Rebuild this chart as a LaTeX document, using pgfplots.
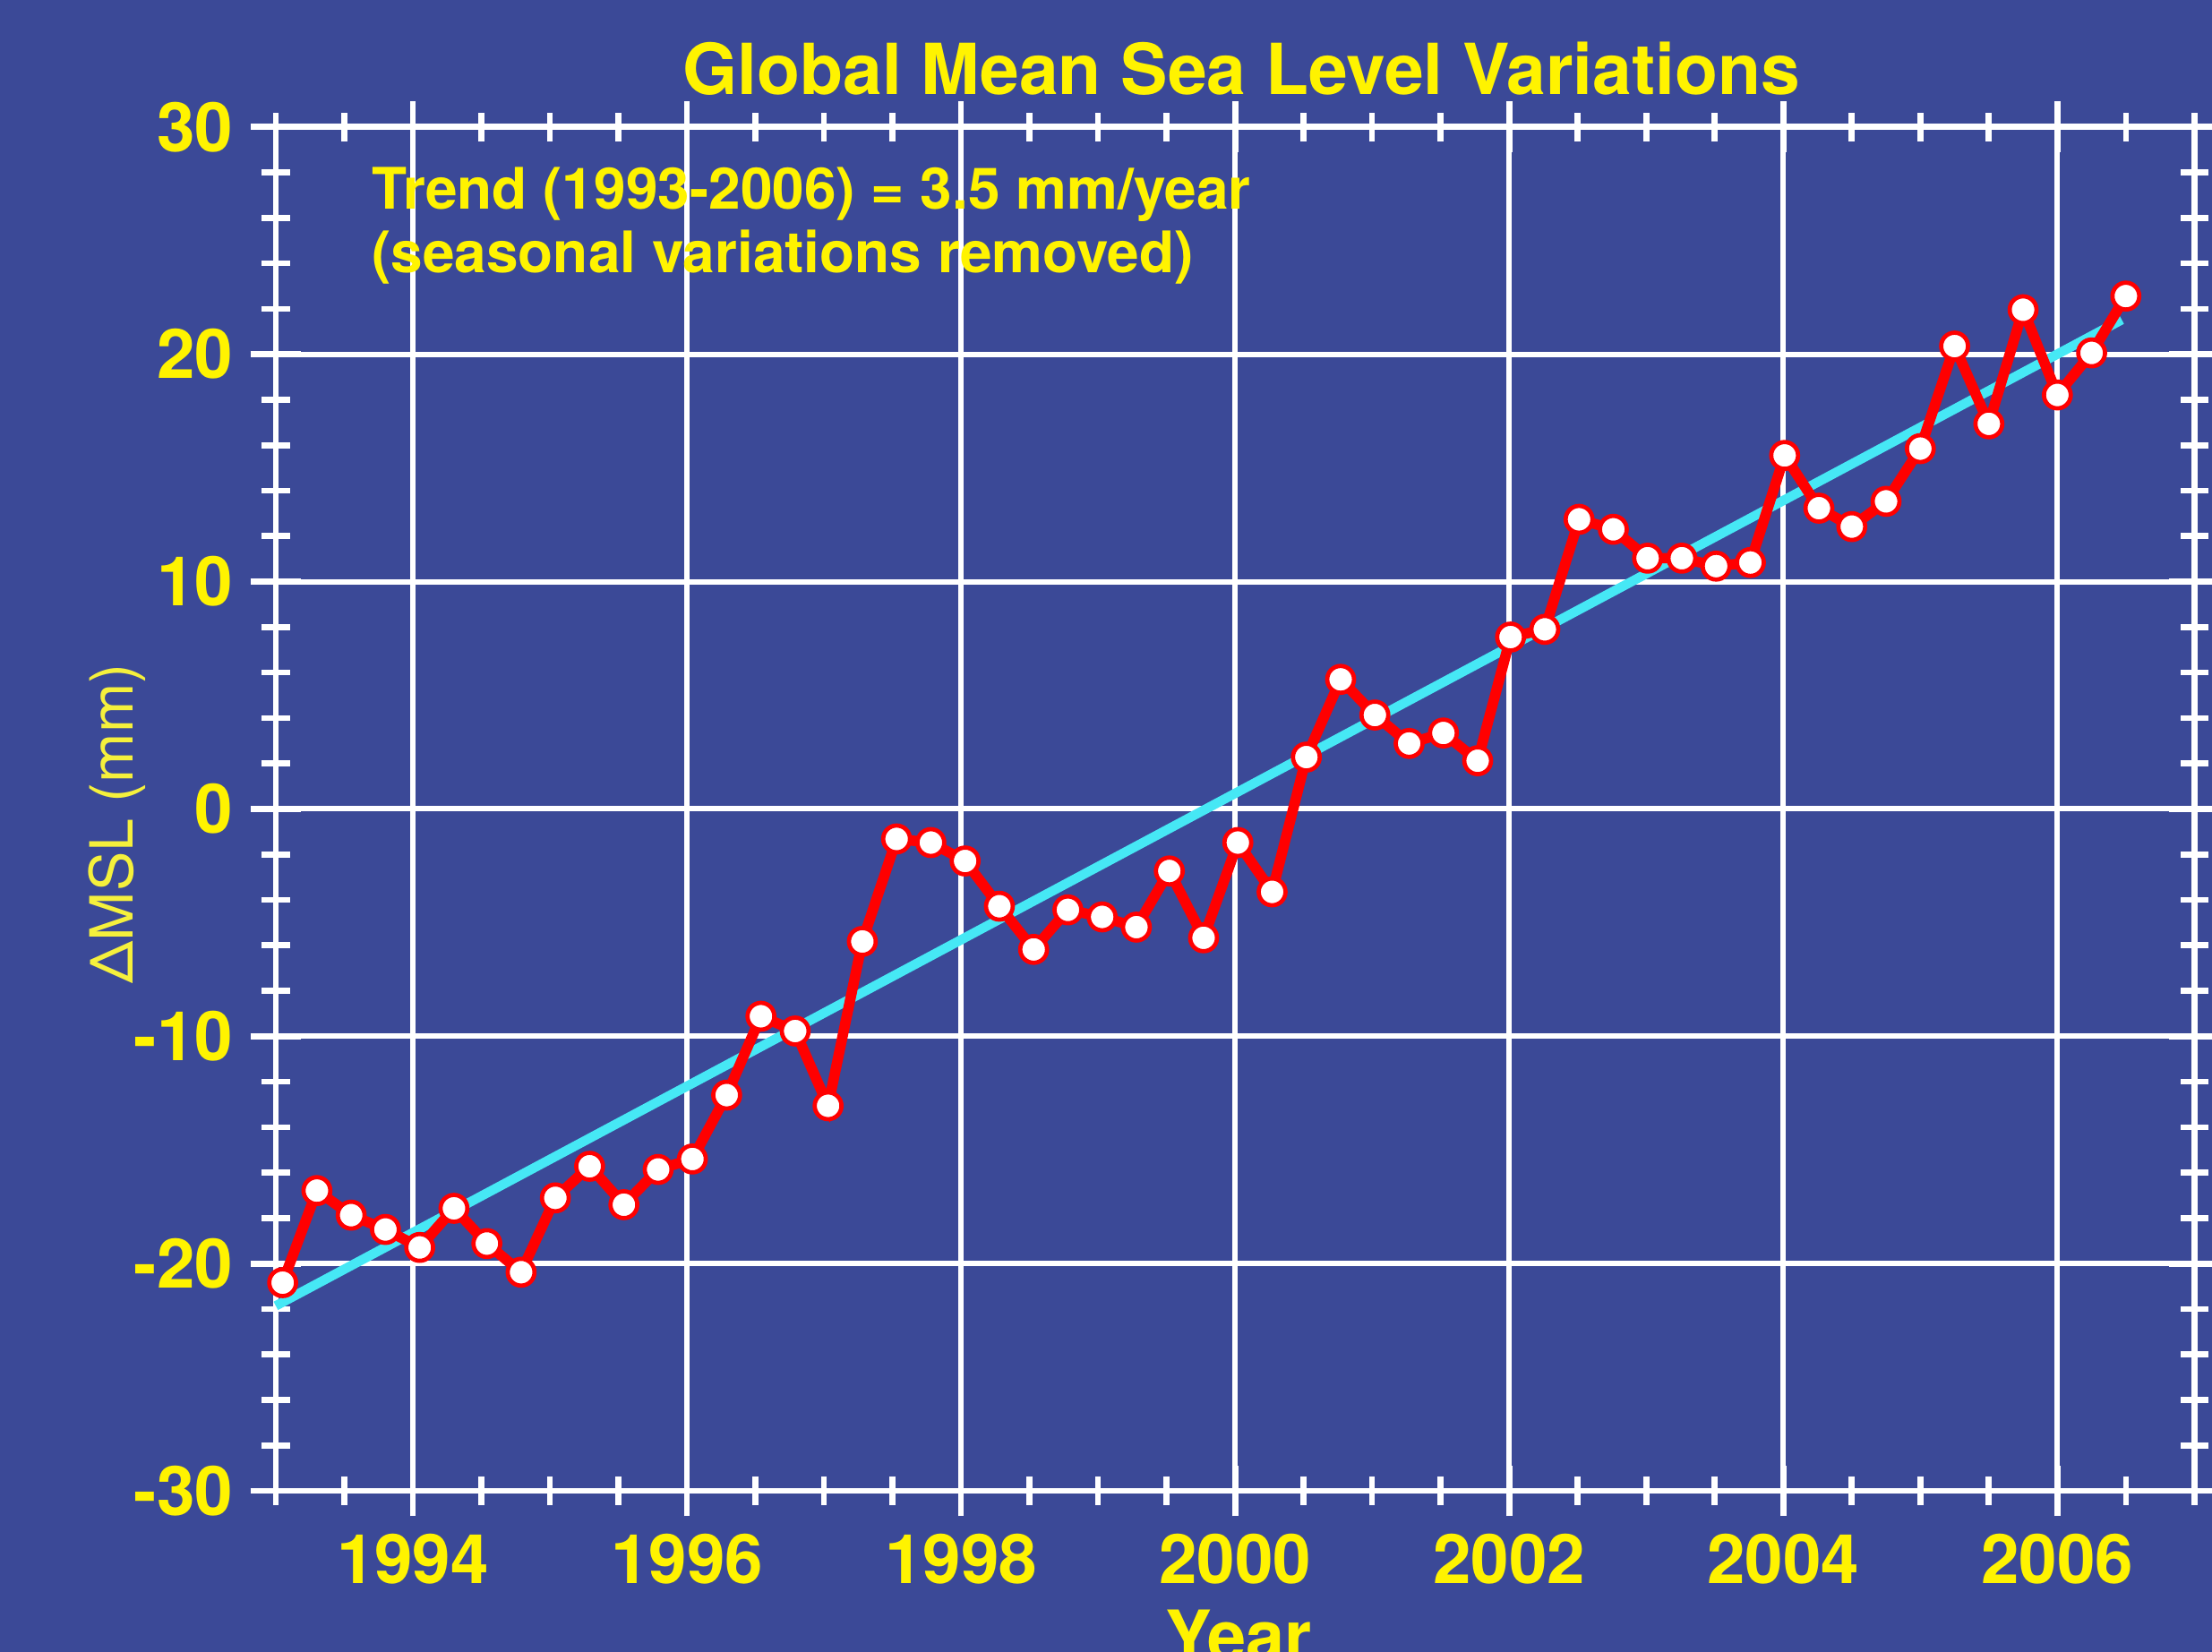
\documentclass[border=0pt]{standalone}
\usepackage{pgfplots}
\pgfplotsset{compat=1.18}
\usepackage{pgfplotstable}
\usepackage{fontspec}
\setmainfont{TeX Gyre Heros}

\definecolor{bgblue}{RGB}{59,73,151}
\definecolor{ylw}{RGB}{255,243,0}
\definecolor{ylwlab}{RGB}{245,240,60}
\definecolor{trendcyan}{RGB}{70,232,245}
\definecolor{mslred}{RGB}{255,0,0}

% global mean sea level, seasonal signal removed (mm)
\pgfplotstableread{
year msl
1993.05 -20.84
1993.30 -16.79
1993.55 -17.87
1993.80 -18.50
1994.05 -19.29
1994.30 -17.57
1994.54 -19.12
1994.79 -20.38
1995.04 -17.11
1995.29 -15.72
1995.54 -17.41
1995.79 -15.86
1996.04 -15.40
1996.29 -12.59
1996.54 -9.12
1996.79 -9.77
1997.03 -13.06
1997.28 -5.83
1997.53 -1.32
1997.78 -1.48
1998.03 -2.29
1998.28 -4.28
1998.53 -6.18
1998.78 -4.44
1999.03 -4.75
1999.28 -5.20
1999.52 -2.73
1999.77 -5.67
2000.02 -1.48
2000.27 -3.65
2000.52 2.28
2000.77 5.70
2001.02 4.13
2001.27 2.88
2001.52 3.34
2001.77 2.12
2002.01 7.56
2002.26 7.90
2002.51 12.74
2002.76 12.30
2003.01 11.03
2003.26 11.03
2003.51 10.68
2003.76 10.84
2004.01 15.55
2004.26 13.23
2004.50 12.42
2004.75 13.53
2005.00 15.85
2005.25 20.36
2005.50 16.94
2005.75 21.96
2006.00 18.21
2006.25 20.06
2006.50 22.56
}\msldata

\pgfplotstableread{
year msl
1993.00 -21.86
2006.47 21.52
}\trenddata

\begin{document}
\begin{tikzpicture}
\fill[bgblue] (0,0) rectangle (156.8mm,117.1mm);
\useasboundingbox (0,0) rectangle (156.8mm,117.1mm);
\begin{scope}
\clip (0,0) rectangle (156.8mm,117.1mm);
\begin{axis}[
  at={(19.55mm,11.4mm)}, anchor=south west,
  scale only axis, width=136mm, height=96.7mm,
  xmin=1993, xmax=2007, ymin=-30, ymax=30,
  xtick={1994,1996,...,2006},
  minor xtick={1993,1993.5,...,2007},
  ytick={-30,-20,...,30},
  minor ytick={-30,-28,...,30},
  grid=major,
  major grid style={white, line width=1.1pt},
  axis line style={white, line width=1.2pt},
  tick style={white, line width=1.2pt},
  tick align=center,
  major tick length=3.6mm,
  minor tick length=2mm,
  /pgf/number format/assume math mode=true,
  /pgf/number format/1000 sep={},
  ticklabel style={font=\fontsize{13.8}{16}\selectfont\bfseries, text=ylw},
  clip=false,
]
\addplot[trendcyan, line width=1.9pt] table[x=year, y=msl] {\trenddata};
\addplot[mslred, line width=2.1pt, mark=*, mark size=0.95mm,
  mark options={solid, fill=white, draw=mslred, line width=0.3mm}]
  table[x=year, y=msl] {\msldata};
\end{axis}
\node[anchor=base, text=ylw, font=\fontsize{14.2}{17}\selectfont\bfseries]
  at (88mm,110.4mm) {Global Mean Sea Level Variations};
\node[anchor=base west, text=ylw, font=\fontsize{11.55}{14}\selectfont\bfseries, inner sep=0pt]
  at (26.3mm,102.3mm) {Trend (1993-2006) = 3.5 mm/year};
\node[anchor=base west, text=ylw, font=\fontsize{11.55}{14}\selectfont\bfseries, inner sep=0pt]
  at (26.3mm,97.8mm) {(seasonal variations removed)};
\node[anchor=base, rotate=90, text=ylwlab, font=\fontsize{12}{14}\selectfont, inner sep=0pt]
  at (9.4mm,58.7mm) {ΔMSL (mm)};
\node[anchor=base, text=ylw, font=\fontsize{14}{17}\selectfont\bfseries, inner sep=0pt]
  at (87.8mm,-0.6mm) {Year};
\end{scope}
\end{tikzpicture}
\end{document}
